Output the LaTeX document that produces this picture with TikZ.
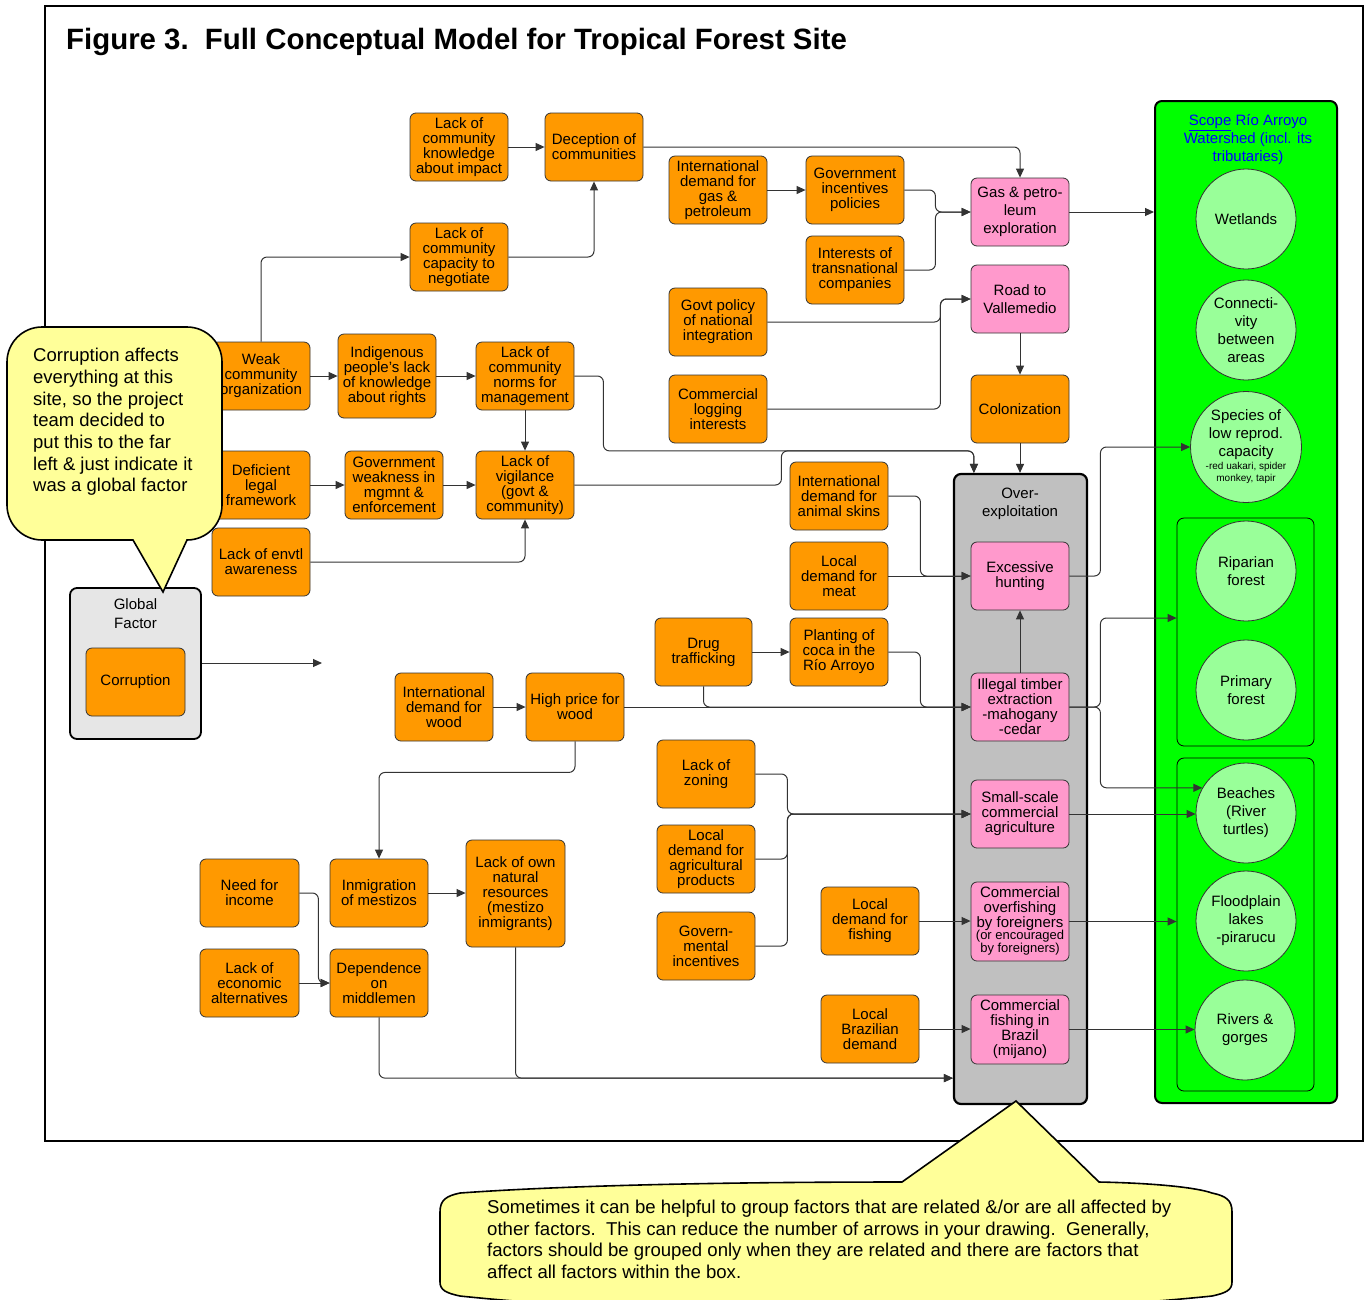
\documentclass[tikz,border=0pt]{standalone}
\usepackage{fontspec}
\setmainfont{Liberation Sans}
\usetikzlibrary{arrows.meta,calc}
\definecolor{org}{HTML}{FF9900}
\definecolor{pnk}{HTML}{FF99CC}
\definecolor{grayfill}{HTML}{C0C0C0}
\definecolor{gfill}{HTML}{E6E6E6}
\definecolor{grn}{HTML}{00FF00}
\definecolor{lgrn}{HTML}{99FF99}
\definecolor{yel}{HTML}{FFFF99}
\begin{document}
\begin{tikzpicture}[x=1pt,y=-1pt,
  boxbase/.style={draw=black!80, line width=0.8pt, rounded corners=6pt, align=center, inner sep=1pt,
    minimum width=98pt, minimum height=68pt, font=\fontsize{15}{15}\selectfont},
  ob/.style={boxbase, fill=org},
  pb/.style={boxbase, fill=pnk},
  circ/.style={circle, draw=black!80, line width=0.8pt, fill=lgrn, minimum size=100pt, inner sep=0pt,
    align=center, font=\fontsize{15}{18}\selectfont},
  grp/.style={draw=black, rounded corners=7pt, inner sep=0pt},
  arr/.style={draw=black!80, line width=1pt, rounded corners=6pt, -{Triangle[length=9pt,width=8pt]}},
  callout/.style={draw=black, line width=1.6pt, fill=yel},
  lbl/.style={align=center, inner sep=0pt},
]
\useasboundingbox (0,0) rectangle (1364,1299);
\fill[white] (0,0) rectangle (1364,1299);
% frame and title
\draw[line width=1.3pt] (45,6) rectangle (1363,1141);
\node[anchor=base west, inner sep=0pt, font=\fontsize{29.4}{29.4}\selectfont\bfseries] (title) at (66,49)
  {Figure 3.\hspace{0.55em}Full Conceptual Model for Tropical Forest Site};

% group boxes
\node[grp, fill=gfill, line width=1.8pt, minimum width=131pt, minimum height=151pt] (glob) at (135.5,663.5) {};
\node[lbl, font=\fontsize{15}{19}\selectfont] (globt) at (135.5,614) {Global\\Factor};
\node[grp, fill=grayfill, line width=2.2pt, minimum width=133pt, minimum height=630pt] (overex) at (1020.5,789) {};
\node[lbl, font=\fontsize{15}{18}\selectfont] (overt) at (1020,504) {Over-\\exploitation};
\node[grp, fill=grn, line width=2pt, minimum width=182pt, minimum height=1002pt] (scope) at (1246,602) {};
\node[lbl, anchor=north, text=blue, font=\fontsize{15}{18}\selectfont] (scopet) at (1248,114)
  {\underline{Scope} Río Arroyo\\Watershed (incl. its\\tributaries)};
\node[grp, line width=0.8pt, minimum width=137pt, minimum height=228pt] (grp1) at (1245.5,632) {};
\node[grp, line width=0.8pt, minimum width=137pt, minimum height=333pt] (grp2) at (1245.5,924.5) {};

% circles
\node[circ] (wet) at (1246,219) {Wetlands};
\node[circ] (conn) at (1246,330) {Connecti-\\vity\\between\\areas};
\node[circ, minimum size=111pt, inner sep=-12pt] (species) at (1246,447)
  {Species of\\low reprod.\\capacity\\[1pt]\fontsize{10}{12}\selectfont\begin{tabular}{@{}c@{}}-red uakari, spider\\monkey, tapir\end{tabular}};
\node[circ] (ripar) at (1246,571) {Riparian\\forest};
\node[circ] (primary) at (1246,690) {Primary\\forest};
\node[circ] (beaches) at (1246,813) {Beaches\\(River\\turtles)};
\node[circ] (flood) at (1246,921) {Floodplain\\lakes\\-pirarucu};
\node[circ] (rivers) at (1245,1030) {Rivers \&\\gorges};

% orange boxes
\node[ob] (lckk) at (459,147) {Lack of\\community\\knowledge\\about impact};
\node[ob] (dec) at (594,147) {Deception of\\communities};
\node[ob] (lckcap) at (459,257) {Lack of\\community\\capacity to\\negotiate};
\node[ob] (intgas) at (718,190) {International\\demand for\\gas \&\\petroleum};
\node[ob] (govinc) at (855,190) {Government\\incentives\\policies};
\node[ob] (trans) at (855,270) {Interests of\\transnational\\companies};
\node[ob] (govpol) at (718,322) {Govt policy\\of national\\integration};
\node[ob] (comlog) at (718,409) {Commercial\\logging\\interests};
\node[ob, font=\fontsize{15}{18}\selectfont] (colon) at (1020,409) {Colonization};
\node[ob] (weak) at (261,376) {Weak\\community\\organization};
\node[ob, minimum height=84pt] (indig) at (387,376) {Indigenous\\people’s lack\\of knowledge\\about rights};
\node[ob] (lcknorm) at (525,376) {Lack of\\community\\norms for\\management};
\node[ob] (defleg) at (261,485) {Deficient\\legal\\framework};
\node[ob] (govweak) at (394,485) {Government\\weakness in\\mgmnt \&\\enforcement};
\node[ob] (vigil) at (525,485) {Lack of\\vigilance\\(govt \&\\community)};
\node[ob] (envtl) at (261,562) {Lack of envtl\\awareness};
\node[ob] (intskin) at (839,496) {International\\demand for\\animal skins};
\node[ob] (meat) at (839,576) {Local\\demand for\\meat};
\node[ob, minimum width=97pt] (drug) at (703.5,652) {Drug\\trafficking};
\node[ob] (coca) at (839,652) {Planting of\\coca in the\\Río Arroyo};
\node[ob] (intwood) at (444,707) {International\\demand for\\wood};
\node[ob] (hiprice) at (575,707) {High price for\\wood};
\node[ob] (zoning) at (706,774) {Lack of\\zoning};
\node[ob] (agri) at (706,859) {Local\\demand for\\agricultural\\products};
\node[ob] (govinc2) at (706,946) {Govern-\\mental\\incentives};
\node[ob] (fishing) at (870,921) {Local\\demand for\\fishing};
\node[ob] (brazil) at (870,1029) {Local\\Brazilian\\demand};
\node[ob, minimum width=99pt] (need) at (249.5,893) {Need for\\income};
\node[ob, minimum width=99pt] (lckecon) at (249.5,983) {Lack of\\economic\\alternatives};
\node[ob] (inmig) at (379,893) {Inmigration\\of mestizos};
\node[ob] (depend) at (379,983) {Dependence\\on\\middlemen};
\node[ob, minimum width=99pt, minimum height=107pt] (lckown) at (515.5,893.5) {Lack of own\\natural\\resources\\(mestizo\\inmigrants)};
\node[ob, minimum width=99pt] (corr) at (135.5,682) {Corruption};

% pink boxes
\node[pb, font=\fontsize{15}{18}\selectfont] (gas) at (1020,212) {Gas \& petro-\\leum\\exploration};
\node[pb, font=\fontsize{15}{18}\selectfont] (road) at (1020,299) {Road to\\Vallemedio};
\node[pb] (hunt) at (1020,576) {Excessive\\hunting};
\node[pb] (timber) at (1020,707) {Illegal timber\\extraction\\-mahogany\\-cedar};
\node[pb] (smallag) at (1020,814) {Small-scale\\commercial\\agriculture};
\node[pb, minimum height=79pt] (overfish) at (1020,921.5)
  {Commercial\\overfishing\\by foreigners\\[-2pt]\fontsize{13}{13}\selectfont\begin{tabular}{@{}c@{}}(or encouraged\\by foreigners)\end{tabular}};
\node[pb, minimum height=69pt] (brfish) at (1020,1029.5) {Commercial\\fishing in\\Brazil\\(mijano)};

% connectors
\draw[arr] (lckk.east) -- (dec.west);
\draw[arr] (lckcap.east) -| (dec.south);
\draw[arr] (weak.north) |- (lckcap.west);
\draw[arr] (dec.east) -| (gas.north);
\draw[arr] (intgas.east) -- (govinc.west);
\draw[arr] (govinc.east) -- ++(31,0) |- (gas.west);
\draw[arr] (trans.east) -- ++(31,0) |- (gas.west);
\draw[arr] (gas.east) -- (gas.east -| scope.west);
\draw[arr] (govpol.east) -- ++(173,0) |- (road.west);
\draw[arr] (comlog.east) -- ++(173,0) |- (road.west);
\draw[arr] (road.south) -- (colon.north);
\draw[arr] (colon.south) -- (colon.south |- overex.north);
\draw[arr] (weak.east) -- (indig.west);
\draw[arr] (indig.east) -- (indig.east -| lcknorm.west);
\draw[arr] (lcknorm.south) -- (vigil.north);
\draw[arr] (lcknorm.east) -- ++(29,0) |- ([xshift=21pt,yshift=22pt]overex.north west) -- ([xshift=21pt]overex.north west);
\draw[arr] (vigil.east) -- ++(207,0) |- ([xshift=21pt,yshift=22pt]overex.north west) -- ([xshift=21pt]overex.north west);
\draw[arr] (defleg.east) -- (govweak.west);
\draw[arr] (govweak.east) -- (vigil.west);
\draw[arr] (envtl.east) -| (vigil.south);
\draw[arr] (intskin.east) -- ++(32,0) |- (hunt.west);
\draw[arr] (meat.east) -- (hunt.west);
\draw[arr] (drug.east) -- (coca.west);
\draw[arr] (coca.east) -- ++(32,0) |- (timber.west);
\draw[arr] (drug.south) |- (timber.west);
\draw[arr] (intwood.east) -- (hiprice.west);
\draw[arr] (hiprice.east) -- (timber.west);
\draw[arr] (hiprice.south) -- ++(0,31) -| (inmig.north);
\draw[arr] (timber.north) -- (hunt.south);
\draw[arr] (hunt.east) -- ++(31,0) |- (species.west);
\draw[arr] (timber.east) -- ++(31,0) |- ([yshift=14pt]grp1.west);
\draw[arr] (timber.east) -- ++(31,0) |- (beaches.150);
\draw[arr] (smallag.east) -- (smallag.east -| beaches.west);
\draw[arr] (overfish.east) -- (overfish.east -| grp2.west);
\draw[arr] (brfish.east) -- (brfish.east -| rivers.west);
\draw[arr] (zoning.east) -- ++(32,0) |- (smallag.west);
\draw[arr] (agri.east) -- ++(32,0) |- (smallag.west);
\draw[arr] (govinc2.east) -- ++(32,0) |- (smallag.west);
\draw[arr] (fishing.east) -- (fishing.east -| overfish.west);
\draw[arr] (brazil.east) -- (brazil.east -| brfish.west);
\draw[arr] (need.east) -- ++(19,0) |- (depend.west);
\draw[arr] (lckecon.east) -- (depend.west);
\draw[arr] (inmig.east) -- (inmig.east -| lckown.west);
\draw[arr] (depend.south) |- ([yshift=27pt]overex.south west);
\draw[arr] (lckown.south) |- ([yshift=27pt]overex.south west);
\coordinate (gfend) at (322,663);
\draw[arr] (glob.east |- gfend) -- (gfend);

% callouts
\path[callout] (42,327) -- (187,327) arc[start angle=-90, end angle=0, radius=35]
  -- (222,505) arc[start angle=0, end angle=90, radius=35]
  -- (187,540) -- (163,592) -- (133,540) -- (42,540)
  arc[start angle=90, end angle=180, radius=35]
  -- (7,362) arc[start angle=180, end angle=270, radius=35] -- cycle;
\node[anchor=north west, align=left, inner sep=0pt, font=\fontsize{18.5}{21.7}\selectfont] (note1) at (33,348)
  {Corruption affects\\everything at this\\site, so the project\\team decided to\\put this to the far\\left \& just indicate it\\was a global factor};

\path[callout] (440,1282) -- (440,1212) .. controls (440,1200) and (446,1196) .. (460,1193)
  .. controls (600,1183) and (800,1182) .. (902,1182) -- (1016,1101) -- (1099,1182)
  .. controls (1150,1183) and (1195,1187) .. (1212,1193)
  .. controls (1226,1196) and (1232,1200) .. (1232,1212) -- (1232,1282)
  .. controls (1232,1290) and (1226,1293) .. (1212,1296)
  .. controls (1000,1318) and (670,1318) .. (460,1296)
  .. controls (446,1293) and (440,1290) .. cycle;
\node[anchor=north west, align=left, inner sep=0pt, font=\fontsize{18.6}{21.5}\selectfont] (note2) at (487,1200)
  {Sometimes it can be helpful to group factors that are related \&/or are all affected by\\
   other factors.\ \ This can reduce the number of arrows in your drawing.\ \ Generally,\\
   factors should be grouped only when they are related and there are factors that\\
   affect all factors within the box.};
\end{tikzpicture}
\end{document}
